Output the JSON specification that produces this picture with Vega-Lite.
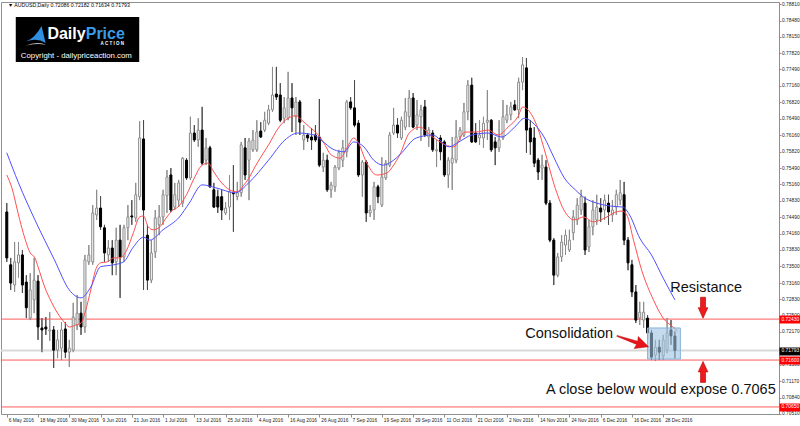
{
"$schema": "https://vega.github.io/schema/vega-lite/v6.json",
"width": 778, "height": 412,
"autosize": {"type": "none"},
"padding": {"left": 1, "top": 2, "right": 21, "bottom": 12},
"background": "white",
"config": {
"view": {"stroke": "#8f8f8f", "strokeWidth": 1},
"font": "Liberation Sans",
"axisX": {"labelOverlap": false, "labelFlush": false, "labelBound": false, "title": null, "domain": false, "grid": false, "tickSize": 3, "tickColor": "#8f8f8f", "labelAlign": "left", "labelBaseline": "top", "labelPadding": 0, "labelOffset": 1.5, "labelFontSize": 4.8, "labelFont": "Liberation Sans", "labelColor": "#222222"},
"axisY": {"labelOverlap": false, "labelFlush": false, "labelBound": false, "grid": false, "title": null}
},
"datasets": {
"one": [{}],
"levels": [
{"price": 0.71793, "role": "last"},
{"price": 0.7243, "role": "resistance"},
{"price": 0.716, "role": "support"},
{"price": 0.7065, "role": "target"}
],
"candles": [
{"i":0,"o":0.7460,"h":0.7478,"l":0.7359,"c":0.7367},
{"i":1,"o":0.7353,"h":0.7367,"l":0.7302,"c":0.7316},
{"i":2,"o":0.7312,"h":0.7399,"l":0.7298,"c":0.7359},
{"i":3,"o":0.7357,"h":0.7399,"l":0.7327,"c":0.7373},
{"i":4,"o":0.7373,"h":0.7383,"l":0.7296,"c":0.7312},
{"i":5,"o":0.7318,"h":0.7332,"l":0.7245,"c":0.7266},
{"i":6,"o":0.7245,"h":0.7336,"l":0.7241,"c":0.7302},
{"i":7,"o":0.7282,"h":0.7367,"l":0.7255,"c":0.7322},
{"i":8,"o":0.7320,"h":0.7332,"l":0.7201,"c":0.7227},
{"i":9,"o":0.7225,"h":0.7245,"l":0.7176,"c":0.7221},
{"i":10,"o":0.7227,"h":0.7247,"l":0.7211,"c":0.7223},
{"i":11,"o":0.7219,"h":0.7257,"l":0.7199,"c":0.7221},
{"i":12,"o":0.7221,"h":0.7229,"l":0.7144,"c":0.7180},
{"i":13,"o":0.7180,"h":0.7221,"l":0.7164,"c":0.7201},
{"i":14,"o":0.7184,"h":0.7237,"l":0.7160,"c":0.7221},
{"i":15,"o":0.7223,"h":0.7237,"l":0.7164,"c":0.7176},
{"i":16,"o":0.7176,"h":0.7201,"l":0.7146,"c":0.7184},
{"i":17,"o":0.7180,"h":0.7276,"l":0.7176,"c":0.7247},
{"i":18,"o":0.7231,"h":0.7292,"l":0.7221,"c":0.7255},
{"i":19,"o":0.7255,"h":0.7278,"l":0.7211,"c":0.7227},
{"i":20,"o":0.7227,"h":0.7373,"l":0.7215,"c":0.7363},
{"i":21,"o":0.7359,"h":0.7393,"l":0.7353,"c":0.7373},
{"i":22,"o":0.7359,"h":0.7474,"l":0.7353,"c":0.7458},
{"i":23,"o":0.7454,"h":0.7505,"l":0.7444,"c":0.7468},
{"i":24,"o":0.7468,"h":0.7492,"l":0.7424,"c":0.7430},
{"i":25,"o":0.7428,"h":0.7434,"l":0.7359,"c":0.7377},
{"i":26,"o":0.7373,"h":0.7403,"l":0.7359,"c":0.7387},
{"i":27,"o":0.7387,"h":0.7403,"l":0.7332,"c":0.7357},
{"i":28,"o":0.7359,"h":0.7428,"l":0.7332,"c":0.7403},
{"i":29,"o":0.7403,"h":0.7434,"l":0.7286,"c":0.7369},
{"i":30,"o":0.7369,"h":0.7434,"l":0.7359,"c":0.7428},
{"i":31,"o":0.7428,"h":0.7474,"l":0.7403,"c":0.7450},
{"i":32,"o":0.7452,"h":0.7484,"l":0.7434,"c":0.7450},
{"i":33,"o":0.7448,"h":0.7519,"l":0.7440,"c":0.7495},
{"i":34,"o":0.7491,"h":0.7644,"l":0.7484,"c":0.7610},
{"i":35,"o":0.7608,"h":0.7646,"l":0.7302,"c":0.7464},
{"i":36,"o":0.7413,"h":0.7434,"l":0.7302,"c":0.7322},
{"i":37,"o":0.7322,"h":0.7403,"l":0.7316,"c":0.7377},
{"i":38,"o":0.7379,"h":0.7464,"l":0.7367,"c":0.7448},
{"i":39,"o":0.7434,"h":0.7474,"l":0.7413,"c":0.7450},
{"i":40,"o":0.7450,"h":0.7505,"l":0.7434,"c":0.7495},
{"i":41,"o":0.7493,"h":0.7545,"l":0.7458,"c":0.7531},
{"i":42,"o":0.7535,"h":0.7549,"l":0.7460,"c":0.7464},
{"i":43,"o":0.7470,"h":0.7519,"l":0.7464,"c":0.7495},
{"i":44,"o":0.7484,"h":0.7525,"l":0.7470,"c":0.7519},
{"i":45,"o":0.7478,"h":0.7571,"l":0.7470,"c":0.7569},
{"i":46,"o":0.7565,"h":0.7569,"l":0.7525,"c":0.7529},
{"i":47,"o":0.7529,"h":0.7653,"l":0.7525,"c":0.7620},
{"i":48,"o":0.7620,"h":0.7636,"l":0.7602,"c":0.7606},
{"i":49,"o":0.7606,"h":0.7650,"l":0.7592,"c":0.7626},
{"i":50,"o":0.7626,"h":0.7673,"l":0.7555,"c":0.7559},
{"i":51,"o":0.7565,"h":0.7610,"l":0.7555,"c":0.7590},
{"i":52,"o":0.7590,"h":0.7594,"l":0.7509,"c":0.7511},
{"i":53,"o":0.7505,"h":0.7519,"l":0.7468,"c":0.7470},
{"i":54,"o":0.7491,"h":0.7505,"l":0.7458,"c":0.7470},
{"i":55,"o":0.7491,"h":0.7505,"l":0.7444,"c":0.7464},
{"i":56,"o":0.7458,"h":0.7480,"l":0.7454,"c":0.7468},
{"i":57,"o":0.7470,"h":0.7535,"l":0.7444,"c":0.7501},
{"i":58,"o":0.7499,"h":0.7555,"l":0.7420,"c":0.7497},
{"i":59,"o":0.7491,"h":0.7521,"l":0.7484,"c":0.7499},
{"i":60,"o":0.7499,"h":0.7602,"l":0.7491,"c":0.7596},
{"i":61,"o":0.7590,"h":0.7610,"l":0.7525,"c":0.7535},
{"i":62,"o":0.7565,"h":0.7610,"l":0.7484,"c":0.7604},
{"i":63,"o":0.7586,"h":0.7626,"l":0.7582,"c":0.7606},
{"i":64,"o":0.7586,"h":0.7646,"l":0.7582,"c":0.7622},
{"i":65,"o":0.7624,"h":0.7642,"l":0.7610,"c":0.7612},
{"i":66,"o":0.7626,"h":0.7663,"l":0.7622,"c":0.7646},
{"i":67,"o":0.7640,"h":0.7677,"l":0.7636,"c":0.7667},
{"i":68,"o":0.7667,"h":0.7754,"l":0.7663,"c":0.7697},
{"i":69,"o":0.7699,"h":0.7754,"l":0.7687,"c":0.7693},
{"i":70,"o":0.7697,"h":0.7721,"l":0.7642,"c":0.7646},
{"i":71,"o":0.7650,"h":0.7693,"l":0.7640,"c":0.7671},
{"i":72,"o":0.7650,"h":0.7744,"l":0.7646,"c":0.7691},
{"i":73,"o":0.7691,"h":0.7721,"l":0.7622,"c":0.7671},
{"i":74,"o":0.7653,"h":0.7693,"l":0.7616,"c":0.7683},
{"i":75,"o":0.7683,"h":0.7687,"l":0.7616,"c":0.7642},
{"i":76,"o":0.7606,"h":0.7636,"l":0.7586,"c":0.7616},
{"i":77,"o":0.7616,"h":0.7620,"l":0.7602,"c":0.7610},
{"i":78,"o":0.7612,"h":0.7630,"l":0.7586,"c":0.7606},
{"i":79,"o":0.7616,"h":0.7636,"l":0.7602,"c":0.7606},
{"i":80,"o":0.7612,"h":0.7689,"l":0.7551,"c":0.7555},
{"i":81,"o":0.7551,"h":0.7580,"l":0.7541,"c":0.7565},
{"i":82,"o":0.7565,"h":0.7576,"l":0.7501,"c":0.7505},
{"i":83,"o":0.7505,"h":0.7521,"l":0.7489,"c":0.7515},
{"i":84,"o":0.7511,"h":0.7555,"l":0.7501,"c":0.7551},
{"i":85,"o":0.7549,"h":0.7586,"l":0.7545,"c":0.7580},
{"i":86,"o":0.7565,"h":0.7606,"l":0.7551,"c":0.7590},
{"i":87,"o":0.7582,"h":0.7687,"l":0.7571,"c":0.7683},
{"i":88,"o":0.7683,"h":0.7693,"l":0.7667,"c":0.7671},
{"i":89,"o":0.7671,"h":0.7727,"l":0.7632,"c":0.7636},
{"i":90,"o":0.7640,"h":0.7646,"l":0.7531,"c":0.7535},
{"i":91,"o":0.7535,"h":0.7565,"l":0.7491,"c":0.7561},
{"i":92,"o":0.7561,"h":0.7565,"l":0.7440,"c":0.7458},
{"i":93,"o":0.7458,"h":0.7474,"l":0.7450,"c":0.7464},
{"i":94,"o":0.7464,"h":0.7521,"l":0.7444,"c":0.7511},
{"i":95,"o":0.7511,"h":0.7515,"l":0.7478,"c":0.7491},
{"i":96,"o":0.7474,"h":0.7571,"l":0.7470,"c":0.7531},
{"i":97,"o":0.7529,"h":0.7565,"l":0.7525,"c":0.7559},
{"i":98,"o":0.7555,"h":0.7622,"l":0.7551,"c":0.7616},
{"i":99,"o":0.7620,"h":0.7671,"l":0.7616,"c":0.7636},
{"i":100,"o":0.7636,"h":0.7650,"l":0.7610,"c":0.7620},
{"i":101,"o":0.7610,"h":0.7653,"l":0.7606,"c":0.7646},
{"i":102,"o":0.7632,"h":0.7691,"l":0.7626,"c":0.7663},
{"i":103,"o":0.7653,"h":0.7707,"l":0.7632,"c":0.7691},
{"i":104,"o":0.7691,"h":0.7701,"l":0.7630,"c":0.7632},
{"i":105,"o":0.7636,"h":0.7687,"l":0.7626,"c":0.7657},
{"i":106,"o":0.7653,"h":0.7677,"l":0.7604,"c":0.7667},
{"i":107,"o":0.7673,"h":0.7687,"l":0.7612,"c":0.7616},
{"i":108,"o":0.7612,"h":0.7632,"l":0.7592,"c":0.7626},
{"i":109,"o":0.7620,"h":0.7626,"l":0.7582,"c":0.7586},
{"i":110,"o":0.7584,"h":0.7606,"l":0.7551,"c":0.7586},
{"i":111,"o":0.7610,"h":0.7616,"l":0.7565,"c":0.7582},
{"i":112,"o":0.7602,"h":0.7606,"l":0.7531,"c":0.7535},
{"i":113,"o":0.7535,"h":0.7571,"l":0.7509,"c":0.7565},
{"i":114,"o":0.7559,"h":0.7612,"l":0.7505,"c":0.7569},
{"i":115,"o":0.7565,"h":0.7646,"l":0.7559,"c":0.7612},
{"i":116,"o":0.7612,"h":0.7632,"l":0.7606,"c":0.7626},
{"i":117,"o":0.7616,"h":0.7681,"l":0.7612,"c":0.7663},
{"i":118,"o":0.7663,"h":0.7727,"l":0.7646,"c":0.7717},
{"i":119,"o":0.7717,"h":0.7732,"l":0.7600,"c":0.7602},
{"i":120,"o":0.7620,"h":0.7640,"l":0.7600,"c":0.7602},
{"i":121,"o":0.7610,"h":0.7646,"l":0.7596,"c":0.7616},
{"i":122,"o":0.7610,"h":0.7653,"l":0.7590,"c":0.7640},
{"i":123,"o":0.7642,"h":0.7707,"l":0.7606,"c":0.7646},
{"i":124,"o":0.7646,"h":0.7648,"l":0.7582,"c":0.7586},
{"i":125,"o":0.7602,"h":0.7612,"l":0.7555,"c":0.7590},
{"i":126,"o":0.7590,"h":0.7646,"l":0.7582,"c":0.7606},
{"i":127,"o":0.7610,"h":0.7687,"l":0.7606,"c":0.7653},
{"i":128,"o":0.7646,"h":0.7677,"l":0.7640,"c":0.7657},
{"i":129,"o":0.7657,"h":0.7683,"l":0.7646,"c":0.7673},
{"i":130,"o":0.7677,"h":0.7687,"l":0.7665,"c":0.7667},
{"i":131,"o":0.7667,"h":0.7732,"l":0.7650,"c":0.7723},
{"i":132,"o":0.7723,"h":0.7774,"l":0.7707,"c":0.7758},
{"i":133,"o":0.7752,"h":0.7772,"l":0.7580,"c":0.7626},
{"i":134,"o":0.7630,"h":0.7646,"l":0.7576,"c":0.7602},
{"i":135,"o":0.7610,"h":0.7632,"l":0.7551,"c":0.7559},
{"i":136,"o":0.7565,"h":0.7569,"l":0.7525,"c":0.7541},
{"i":137,"o":0.7549,"h":0.7576,"l":0.7525,"c":0.7555},
{"i":138,"o":0.7551,"h":0.7565,"l":0.7474,"c":0.7478},
{"i":139,"o":0.7478,"h":0.7484,"l":0.7399,"c":0.7403},
{"i":140,"o":0.7403,"h":0.7407,"l":0.7312,"c":0.7332},
{"i":141,"o":0.7332,"h":0.7377,"l":0.7328,"c":0.7369},
{"i":142,"o":0.7369,"h":0.7413,"l":0.7359,"c":0.7399},
{"i":143,"o":0.7393,"h":0.7424,"l":0.7373,"c":0.7413},
{"i":144,"o":0.7383,"h":0.7424,"l":0.7379,"c":0.7403},
{"i":145,"o":0.7418,"h":0.7464,"l":0.7403,"c":0.7450},
{"i":146,"o":0.7444,"h":0.7488,"l":0.7434,"c":0.7474},
{"i":147,"o":0.7464,"h":0.7505,"l":0.7454,"c":0.7491},
{"i":148,"o":0.7478,"h":0.7491,"l":0.7373,"c":0.7383},
{"i":149,"o":0.7389,"h":0.7444,"l":0.7379,"c":0.7430},
{"i":150,"o":0.7430,"h":0.7484,"l":0.7413,"c":0.7464},
{"i":151,"o":0.7444,"h":0.7495,"l":0.7434,"c":0.7470},
{"i":152,"o":0.7468,"h":0.7488,"l":0.7440,"c":0.7460},
{"i":153,"o":0.7464,"h":0.7495,"l":0.7444,"c":0.7484},
{"i":154,"o":0.7478,"h":0.7495,"l":0.7434,"c":0.7460},
{"i":155,"o":0.7454,"h":0.7484,"l":0.7440,"c":0.7464},
{"i":156,"o":0.7470,"h":0.7505,"l":0.7454,"c":0.7495},
{"i":157,"o":0.7484,"h":0.7525,"l":0.7474,"c":0.7499},
{"i":158,"o":0.7495,"h":0.7521,"l":0.7393,"c":0.7403},
{"i":159,"o":0.7403,"h":0.7409,"l":0.7342,"c":0.7357},
{"i":160,"o":0.7353,"h":0.7363,"l":0.7288,"c":0.7298},
{"i":161,"o":0.7298,"h":0.7312,"l":0.7235,"c":0.7241},
{"i":162,"o":0.7245,"h":0.7278,"l":0.7231,"c":0.7257},
{"i":163,"o":0.7241,"h":0.7278,"l":0.7225,"c":0.7257},
{"i":164,"o":0.7245,"h":0.7251,"l":0.7201,"c":0.7215},
{"i":165,"o":0.7215,"h":0.7221,"l":0.7160,"c":0.7166},
{"i":166,"o":0.7170,"h":0.7201,"l":0.7158,"c":0.7186},
{"i":167,"o":0.7186,"h":0.7201,"l":0.7160,"c":0.7176},
{"i":168,"o":0.7168,"h":0.7211,"l":0.7160,"c":0.7201},
{"i":169,"o":0.7180,"h":0.7245,"l":0.7174,"c":0.7215},
{"i":170,"o":0.7221,"h":0.7241,"l":0.7191,"c":0.7209},
{"i":171,"o":0.72086,"h":0.72182,"l":0.71634,"c":0.71793}
],
"ma": [
{"s":"fast","i":0,"v":0.7535},{"s":"fast","i":1.3,"v":0.7509},{"s":"fast","i":3,"v":0.7454},{"s":"fast","i":4.2,"v":0.7418},{"s":"fast","i":6,"v":0.7377},{"s":"fast","i":7.2,"v":0.7367},{"s":"fast","i":8,"v":0.7349},{"s":"fast","i":9.7,"v":0.7308},{"s":"fast","i":11.4,"v":0.7278},{"s":"fast","i":13,"v":0.7255},{"s":"fast","i":14.7,"v":0.7237},{"s":"fast","i":16,"v":0.7227},{"s":"fast","i":17.7,"v":0.7231},{"s":"fast","i":19,"v":0.7235},{"s":"fast","i":20.2,"v":0.7261},{"s":"fast","i":21.5,"v":0.7302},{"s":"fast","i":22.7,"v":0.7342},{"s":"fast","i":24,"v":0.7357},{"s":"fast","i":25.7,"v":0.7359},{"s":"fast","i":27.4,"v":0.7367},{"s":"fast","i":29,"v":0.7367},{"s":"fast","i":30.7,"v":0.7383},{"s":"fast","i":32.4,"v":0.7418},{"s":"fast","i":34,"v":0.7450},{"s":"fast","i":35,"v":0.7452},{"s":"fast","i":36.2,"v":0.7430},{"s":"fast","i":37.5,"v":0.7424},{"s":"fast","i":39.2,"v":0.7430},{"s":"fast","i":40.8,"v":0.7448},{"s":"fast","i":42.5,"v":0.7464},{"s":"fast","i":43.8,"v":0.7470},{"s":"fast","i":46,"v":0.7495},{"s":"fast","i":48,"v":0.7529},{"s":"fast","i":50,"v":0.7555},{"s":"fast","i":51.5,"v":0.7559},{"s":"fast","i":53,"v":0.7541},{"s":"fast","i":55,"v":0.7519},{"s":"fast","i":57,"v":0.7505},{"s":"fast","i":59,"v":0.7501},{"s":"fast","i":60.5,"v":0.7513},{"s":"fast","i":62,"v":0.7529},{"s":"fast","i":63.5,"v":0.7551},{"s":"fast","i":65,"v":0.7571},{"s":"fast","i":67,"v":0.7596},{"s":"fast","i":69.5,"v":0.7630},{"s":"fast","i":72,"v":0.7650},{"s":"fast","i":74,"v":0.7655},{"s":"fast","i":75.5,"v":0.7646},{"s":"fast","i":77.5,"v":0.7632},{"s":"fast","i":79.5,"v":0.7618},{"s":"fast","i":81,"v":0.7602},{"s":"fast","i":83,"v":0.7576},{"s":"fast","i":85.3,"v":0.7569},{"s":"fast","i":87.2,"v":0.7592},{"s":"fast","i":88.8,"v":0.7610},{"s":"fast","i":90,"v":0.7600},{"s":"fast","i":91.8,"v":0.7565},{"s":"fast","i":94.7,"v":0.7535},{"s":"fast","i":97.3,"v":0.7539},{"s":"fast","i":99,"v":0.7555},{"s":"fast","i":100.6,"v":0.7576},{"s":"fast","i":103,"v":0.7620},{"s":"fast","i":105.6,"v":0.7632},{"s":"fast","i":109,"v":0.7612},{"s":"fast","i":112.3,"v":0.7596},{"s":"fast","i":114.4,"v":0.7592},{"s":"fast","i":117.3,"v":0.7622},{"s":"fast","i":119.9,"v":0.7622},{"s":"fast","i":123.2,"v":0.7626},{"s":"fast","i":125.8,"v":0.7616},{"s":"fast","i":128.3,"v":0.7632},{"s":"fast","i":130.8,"v":0.7653},{"s":"fast","i":132.1,"v":0.7673},{"s":"fast","i":133.4,"v":0.7667},{"s":"fast","i":135.9,"v":0.7630},{"s":"fast","i":137.6,"v":0.7586},{"s":"fast","i":140.1,"v":0.7515},{"s":"fast","i":142.6,"v":0.7464},{"s":"fast","i":145.2,"v":0.7444},{"s":"fast","i":147.7,"v":0.7450},{"s":"fast","i":150,"v":0.7440},{"s":"fast","i":152,"v":0.7444},{"s":"fast","i":153.6,"v":0.7450},{"s":"fast","i":155.3,"v":0.7458},{"s":"fast","i":157.5,"v":0.7462},{"s":"fast","i":158.7,"v":0.7454},{"s":"fast","i":160.4,"v":0.7403},{"s":"fast","i":162.5,"v":0.7342},{"s":"fast","i":165.5,"v":0.7282},{"s":"fast","i":168,"v":0.7245},{"s":"fast","i":170.5,"v":0.7227},{"s":"fast","i":171.7,"v":0.7219},
{"s":"slow","i":0,"v":0.7580},{"s":"slow","i":3,"v":0.7519},{"s":"slow","i":7.2,"v":0.7444},{"s":"slow","i":12.2,"v":0.7363},{"s":"slow","i":16,"v":0.7302},{"s":"slow","i":19,"v":0.7286},{"s":"slow","i":21.5,"v":0.7308},{"s":"slow","i":24,"v":0.7349},{"s":"slow","i":27.4,"v":0.7353},{"s":"slow","i":29.9,"v":0.7359},{"s":"slow","i":32.4,"v":0.7389},{"s":"slow","i":35,"v":0.7409},{"s":"slow","i":36.6,"v":0.7403},{"s":"slow","i":40,"v":0.7424},{"s":"slow","i":44.2,"v":0.7450},{"s":"slow","i":46.7,"v":0.7478},{"s":"slow","i":50,"v":0.7515},{"s":"slow","i":53.5,"v":0.7509},{"s":"slow","i":58.5,"v":0.7499},{"s":"slow","i":61.9,"v":0.7519},{"s":"slow","i":67,"v":0.7565},{"s":"slow","i":71.2,"v":0.7606},{"s":"slow","i":74.5,"v":0.7620},{"s":"slow","i":78.7,"v":0.7616},{"s":"slow","i":80.4,"v":0.7606},{"s":"slow","i":83.8,"v":0.7586},{"s":"slow","i":86.3,"v":0.7582},{"s":"slow","i":88.8,"v":0.7602},{"s":"slow","i":91.4,"v":0.7592},{"s":"slow","i":93.9,"v":0.7565},{"s":"slow","i":96.4,"v":0.7555},{"s":"slow","i":99,"v":0.7565},{"s":"slow","i":100.6,"v":0.7576},{"s":"slow","i":104.8,"v":0.7610},{"s":"slow","i":109,"v":0.7616},{"s":"slow","i":113.2,"v":0.7592},{"s":"slow","i":115.7,"v":0.7602},{"s":"slow","i":119,"v":0.7616},{"s":"slow","i":123.2,"v":0.7620},{"s":"slow","i":126.6,"v":0.7612},{"s":"slow","i":130,"v":0.7632},{"s":"slow","i":132.5,"v":0.7650},{"s":"slow","i":135,"v":0.7638},{"s":"slow","i":137.5,"v":0.7612},{"s":"slow","i":140,"v":0.7571},{"s":"slow","i":142.7,"v":0.7529},{"s":"slow","i":145.5,"v":0.7505},{"s":"slow","i":148,"v":0.7488},{"s":"slow","i":151,"v":0.7478},{"s":"slow","i":154.5,"v":0.7472},{"s":"slow","i":157.7,"v":0.7470},{"s":"slow","i":159.4,"v":0.7454},{"s":"slow","i":162,"v":0.7407},{"s":"slow","i":165,"v":0.7373},{"s":"slow","i":168,"v":0.7326},{"s":"slow","i":171,"v":0.7282}
]
},
"resolve": {"axis": {"y": "independent"}},
"layer": [
{
"data": {"name": "candles"},
"mark": {"type": "rule", "strokeWidth": 1},
"encoding": {
"x": {"field": "i", "type": "quantitative",
"scale": {"domain": [-0.2, 196.36], "nice": false, "zero": false},
"axis": {"orient": "bottom", "values": [0,8,16,24,32,40,48,56,64,72,80,88,96,104,112,120,128,136,144,152,160,168], "tickCount": 60,
"labelExpr": "['6 May 2016','18 May 2016','30 May 2016','9 Jun 2016','21 Jun 2016','1 Jul 2016','13 Jul 2016','25 Jul 2016','4 Aug 2016','16 Aug 2016','26 Aug 2016','7 Sep 2016','19 Sep 2016','29 Sep 2016','11 Oct 2016','21 Oct 2016','2 Nov 2016','14 Nov 2016','24 Nov 2016','6 Dec 2016','16 Dec 2016','28 Dec 2016'][round(datum.value/8)]",
"labelOverlap": false, "labelFlush": false, "labelBound": false}},
"y": {"field": "l", "type": "quantitative",
"scale": {"domain": [0.70507, 0.78855], "nice": false, "zero": false},
"axis": {"orient": "right", "values": [0.7881,0.7848,0.7815,0.7782,0.7749,0.7716,0.7682,0.7649,0.7616,0.7582,0.7549,0.7516,0.7483,0.7449,0.7416,0.7383,0.735,0.7316,0.7283,0.725,0.7217,0.715,0.7117,0.7084,0.7051], "tickCount": 60,
"format": ".5f", "domain": true, "domainColor": "#8f8f8f", "tickSize": 2, "tickColor": "#8f8f8f", "labelColor": "#222222", "labelFont": "Liberation Sans", "labelFontSize": 4.9, "labelPadding": 0.5, "zindex": 0}},
"y2": {"field": "h"},
"color": {"condition": {"test": "datum.c >= datum.o", "value": "#8a8a8a"}, "value": "#4a4a4a"}
}
},
{
"data": {"name": "levels"},
"mark": {"type": "rule"},
"encoding": {
"y": {"field": "price", "type": "quantitative",
"axis": {"orient": "right", "values": [0.7243, 0.716, 0.7065, 0.71793], "tickCount": 20, "format": ".5f", "domain": false, "ticks": true, "tickSize": 21, "tickWidth": 8,
"tickColor": {"condition": {"test": "datum.value > 0.7175 && datum.value < 0.7185", "value": "#000000"}, "value": "#ff0000"},
"labelColor": "#ffffff", "labelFont": "Liberation Sans", "labelFontSize": 4.9, "labelPadding": -19, "zindex": 1}},
"color": {"condition": {"test": "datum.role == 'last'", "value": "#d9d9d9"}, "value": "#ff5a5a"},
"strokeWidth": {"condition": {"test": "datum.role == 'last'", "value": 2}, "value": 1}
}
},
{
"data": {"name": "candles"},
"mark": {"type": "rule", "strokeWidth": 1},
"encoding": {
"x": {"field": "i", "type": "quantitative"},
"y": {"field": "l", "type": "quantitative", "axis": null},
"y2": {"field": "h"},
"color": {"condition": {"test": "datum.c >= datum.o", "value": "#8a8a8a"}, "value": "#4a4a4a"}
}
},
{
"data": {"name": "candles"},
"mark": {"type": "bar", "width": 2, "strokeWidth": 1, "orient": "vertical"},
"encoding": {
"x": {"field": "i", "type": "quantitative"},
"y": {"field": "o", "type": "quantitative", "axis": null},
"y2": {"field": "c"},
"fill": {"condition": {"test": "datum.c >= datum.o", "value": "#ffffff"}, "value": "#000000"},
"stroke": {"condition": {"test": "datum.c >= datum.o", "value": "#8a8a8a"}, "value": "#000000"}
}
},
{
"data": {"name": "ma"},
"mark": {"type": "line", "strokeWidth": 1, "interpolate": "monotone"},
"encoding": {
"x": {"field": "i", "type": "quantitative"},
"y": {"field": "v", "type": "quantitative", "axis": null},
"color": {"field": "s", "type": "nominal", "scale": {"domain": ["fast", "slow"], "range": ["#ff4f4f", "#5050ff"]}, "legend": null}
}
},
{
"data": {"name": "one"},
"mark": {"type": "rect", "fill": "#9cc3e3", "fillOpacity": 0.6, "stroke": "#86b3da", "strokeWidth": 1},
"encoding": {
"x": {"datum": 164.0, "type": "quantitative"},
"x2": {"datum": 172.4},
"y": {"datum": 0.7225, "type": "quantitative", "axis": null},
"y2": {"datum": 0.7162}
}
},
{
"data": {"name": "one"},
"mark": {"type": "point", "shape": "M-0.24,-1 L0.24,-1 L0.24,0 L0.46,0 L0,1 L-0.46,0 L-0.24,0 Z", "size": 440, "filled": true, "fill": "#ee1c1c", "stroke": "#b00000", "strokeWidth": 0.6, "opacity": 1},
"encoding": {
"x": {"datum": 178.2, "type": "quantitative"},
"y": {"datum": 0.7266, "type": "quantitative", "axis": null}
}
},
{
"data": {"name": "one"},
"mark": {"type": "point", "shape": "M-0.24,1 L0.24,1 L0.24,0 L0.46,0 L0,-1 L-0.46,0 L-0.24,0 Z", "size": 440, "filled": true, "fill": "#ee1c1c", "stroke": "#b00000", "strokeWidth": 0.6, "opacity": 1},
"encoding": {
"x": {"datum": 178.2, "type": "quantitative"},
"y": {"datum": 0.7136, "type": "quantitative", "axis": null}
}
},
{
"data": {"name": "one"},
"mark": {"type": "point", "shape": "M-1,-0.03 L0.28,-0.1 L0.22,-0.38 L1,0 L0.22,0.38 L0.28,0.1 L-1,0.03 Z", "size": 1122, "angle": 19, "filled": true, "fill": "#e8141b", "stroke": "#b00000", "strokeWidth": 0.4, "opacity": 1},
"encoding": {
"x": {"datum": 160.2, "type": "quantitative"},
"y": {"datum": 0.7198, "type": "quantitative", "axis": null}
}
},
{
"data": {"name": "one"},
"mark": {"type": "text", "text": "Resistance", "font": "Liberation Sans", "fontSize": 14.5, "align": "left", "baseline": "alphabetic", "color": "#111111"},
"encoding": {
"x": {"datum": 169.8, "type": "quantitative"},
"y": {"datum": 0.7298, "type": "quantitative", "axis": null}
}
},
{
"data": {"name": "one"},
"mark": {"type": "text", "text": "Consolidation", "font": "Liberation Sans", "fontSize": 14.5, "align": "left", "baseline": "alphabetic", "color": "#111111"},
"encoding": {
"x": {"datum": 132.7, "type": "quantitative"},
"y": {"datum": 0.7204, "type": "quantitative", "axis": null}
}
},
{
"data": {"name": "one"},
"mark": {"type": "text", "text": "A close below would expose 0.7065", "font": "Liberation Sans", "fontSize": 14.5, "align": "left", "baseline": "alphabetic", "color": "#111111"},
"encoding": {
"x": {"datum": 138.0, "type": "quantitative"},
"y": {"datum": 0.7091, "type": "quantitative", "axis": null}
}
},
{
"data": {"name": "one"},
"mark": {"type": "text", "text": "▼ AUDUSD,Daily  0.72086 0.72182 0.71634 0.71793", "font": "Liberation Sans", "fontSize": 5.2, "align": "left", "baseline": "alphabetic", "color": "#000000"},
"encoding": {
"x": {"datum": 0.3, "type": "quantitative"},
"y": {"datum": 0.78754, "type": "quantitative", "axis": null}
}
},
{
"data": {"name": "one"},
"mark": {"type": "rect", "fill": "#000000"},
"encoding": {
"x": {"datum": 2.3, "type": "quantitative"},
"x2": {"datum": 33.9},
"y": {"datum": 0.78552, "type": "quantitative", "axis": null},
"y2": {"datum": 0.7764}
}
},
{
"data": {"name": "one"},
"mark": {"type": "point", "shape": "M-1,0.55 Q-0.1,0.2 0.55,-1 L0.95,0.7 Q0.1,0.15 -1,0.55 Z", "size": 400, "filled": true, "fill": "#2f8fe0", "strokeWidth": 0, "opacity": 1},
"encoding": {
"x": {"datum": 7.5, "type": "quantitative"},
"y": {"datum": 0.78166, "type": "quantitative", "axis": null}
}
},
{
"data": {"name": "one"},
"mark": {"type": "point", "shape": "M-1,0.95 Q0,0.55 1,0.85 Q0,0.72 -1,0.95 Z", "size": 400, "filled": true, "fill": "#ffffff", "strokeWidth": 0, "opacity": 1},
"encoding": {
"x": {"datum": 7.5, "type": "quantitative"},
"y": {"datum": 0.78166, "type": "quantitative", "axis": null}
}
},
{
"data": {"name": "one"},
"mark": {"type": "text", "text": "Daily", "font": "Liberation Sans", "fontWeight": "bold", "fontSize": 16, "align": "left", "baseline": "alphabetic", "color": "#ffffff"},
"encoding": {
"x": {"datum": 10.4, "type": "quantitative"},
"y": {"datum": 0.7811, "type": "quantitative", "axis": null}
}
},
{
"data": {"name": "one"},
"mark": {"type": "text", "text": "Price", "font": "Liberation Sans", "fontWeight": "bold", "fontSize": 16, "align": "left", "baseline": "alphabetic", "color": "#3a9be8"},
"encoding": {
"x": {"datum": 20.2, "type": "quantitative"},
"y": {"datum": 0.7811, "type": "quantitative", "axis": null}
}
},
{
"data": {"name": "one"},
"mark": {"type": "text", "text": "A C T I O N", "font": "Liberation Sans", "fontWeight": "bold", "fontSize": 4.5, "align": "left", "baseline": "alphabetic", "color": "#ffffff"},
"encoding": {
"x": {"datum": 24.0, "type": "quantitative"},
"y": {"datum": 0.77984, "type": "quantitative", "axis": null}
}
},
{
"data": {"name": "one"},
"mark": {"type": "text", "text": "Copyright - dailypriceaction.com", "font": "Liberation Sans", "fontSize": 7.8, "align": "left", "baseline": "alphabetic", "color": "#ffffff"},
"encoding": {
"x": {"datum": 3.6, "type": "quantitative"},
"y": {"datum": 0.7772, "type": "quantitative", "axis": null}
}
}
]
}
